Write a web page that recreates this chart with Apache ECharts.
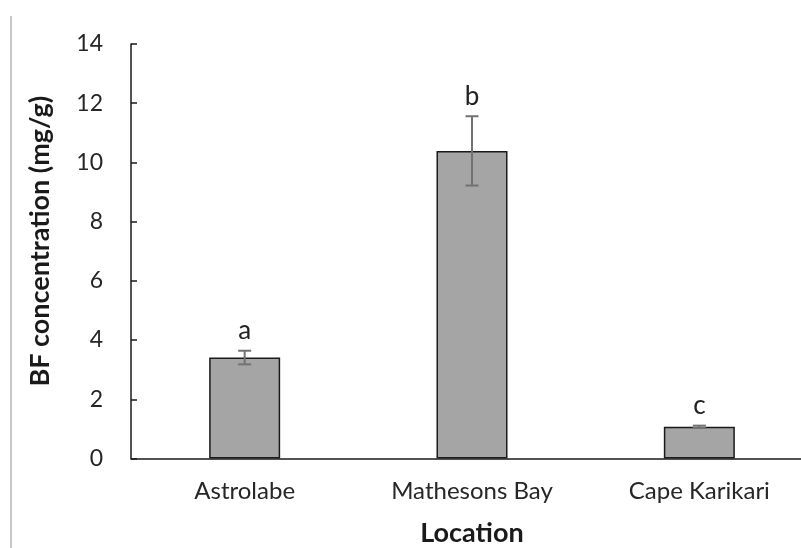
<!DOCTYPE html>
<html>
<head>
<meta charset="utf-8">
<script src="https://cdn.jsdelivr.net/npm/echarts@6/dist/echarts.min.js"></script>
<style>
html,body{margin:0;padding:0;background:#fff;}
#chart{width:801px;height:548px;}
</style>
</head>
<body>
<div id="chart"></div>
<script>
const categories = ['Astrolabe', 'Mathesons Bay', 'Cape Karikari'];
const means = [3.41, 10.39, 1.07];
const errors = [0.23, 1.17, 0.04];
const letters = ['a', 'b', 'c'];
const yTicks = [0, 2, 4, 6, 8, 10, 12, 14];

const FONT = 'Lato';
const chart = echarts.init(document.getElementById('chart'));

const errData = categories.map((c, i) => [i, means[i] - errors[i], means[i] + errors[i], letters[i]]);

chart.setOption({
  animation: false,
  backgroundColor: '#fff',
  grid: { left: 131, top: 44, width: 682, height: 414.5, containLabel: false, outerBoundsMode: 'none' },
  graphic: [{
    type: 'line', shape: { x1: 11, y1: 16, x2: 11, y2: 548 },
    style: { stroke: '#c8c8c8', lineWidth: 2 }, silent: true
  }],
  xAxis: {
    type: 'category',
    data: categories,
    name: 'Location',
    nameLocation: 'middle',
    nameGap: 61,
    nameTextStyle: { fontFamily: FONT, fontWeight: 'bold', fontSize: 27, color: '#1a1a1a' },
    axisLine: { lineStyle: { color: '#1a1a1a', width: 1.5 } },
    axisTick: { show: false },
    axisLabel: { fontFamily: FONT, fontSize: 24, color: '#262626', margin: 21 }
  },
  yAxis: {
    type: 'value',
    min: yTicks[0], max: yTicks[yTicks.length - 1], interval: 2,
    name: 'BF concentration (mg/g)',
    nameLocation: 'middle',
    nameGap: 77,
    nameTextStyle: { fontFamily: FONT, fontWeight: 'bold', fontSize: 27, color: '#1a1a1a', padding: [0, 0, 0, 20] },
    splitLine: { show: false },
    axisLine: { show: true, lineStyle: { color: '#1a1a1a', width: 1.5 } },
    axisTick: { show: true, inside: true, length: 6, lineStyle: { color: '#1a1a1a', width: 1.5 } },
    axisLabel: { fontFamily: FONT, fontSize: 23, color: '#262626', margin: 28 }
  },
  series: [{
    type: 'bar',
    data: means,
    barWidth: 71,
    itemStyle: { color: '#a5a5a5', borderColor: '#1a1a1a', borderWidth: 1.5 }
  }, {
    type: 'custom',
    data: errData,
    z: 10,
    renderItem: function (params, api) {
      const x = api.coord([api.value(0), 0])[0];
      const lo = api.coord([api.value(0), api.value(1)])[1];
      const hi = api.coord([api.value(0), api.value(2)])[1];
      const cap = 6.5;
      const st = { stroke: '#727272', lineWidth: 2 };
      return {
        type: 'group',
        children: [
          { type: 'line', shape: { x1: x, y1: lo, x2: x, y2: hi }, style: st },
          { type: 'line', shape: { x1: x - cap, y1: lo, x2: x + cap, y2: lo }, style: st },
          { type: 'line', shape: { x1: x - cap, y1: hi, x2: x + cap, y2: hi }, style: st },
          { type: 'text', style: { text: api.value(3), x: x, y: hi - 7, align: 'center', verticalAlign: 'bottom', fontFamily: FONT, fontSize: 26, fill: '#222' } }
        ]
      };
    }
  }]
});
</script>
</body>
</html>
